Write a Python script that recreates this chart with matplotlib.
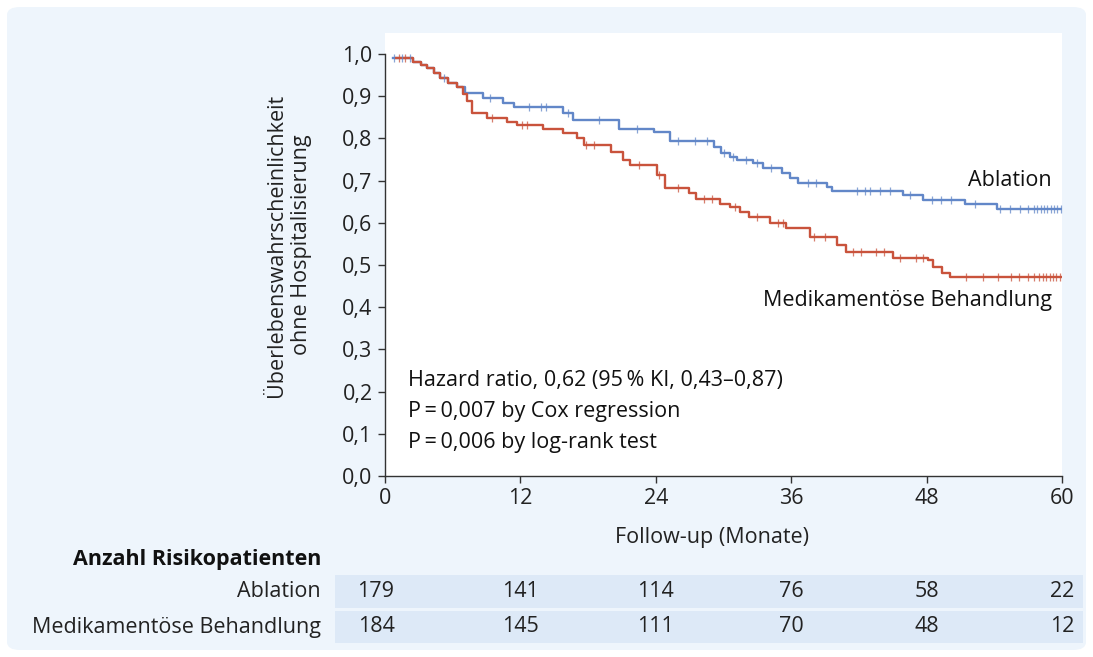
import numpy as np
import matplotlib.pyplot as plt
from matplotlib.patches import FancyBboxPatch, Rectangle
from matplotlib.transforms import blended_transform_factory, ScaledTranslation

plt.rcParams['font.family'] = ['Open Sans', 'DejaVu Sans']

# Kaplan-Meier-Stufen: Zeitpunkt (Monate) und Wert nach der Stufe
abl_t = [0.7, 2.5, 3.2, 3.7, 4.3, 4.9, 5.6, 6.4, 7.1, 8.7, 10.5, 11.4, 15.8, 16.7,
         20.7, 23.8, 25.3, 29.2, 29.8, 30.6, 31.2, 32.6, 33.5, 35.2, 35.9, 36.6,
         39.2, 39.6, 45.9, 47.7, 51.4, 54.2]
abl_s = [0.99, 0.982, 0.975, 0.967, 0.955, 0.943, 0.932, 0.922, 0.907, 0.896, 0.884,
         0.875, 0.86, 0.844, 0.822, 0.815, 0.795, 0.78, 0.765, 0.755, 0.749, 0.742,
         0.73, 0.718, 0.706, 0.695, 0.685, 0.675, 0.666, 0.654, 0.645, 0.632]
abl_cens = [0.8, 1.5, 2.2, 5.2, 9.3, 12.8, 13.8, 14.3, 16.2, 19.0, 22.3, 26.0, 27.5,
            28.5, 30.0, 30.8, 32.0, 33.0, 34.2, 37.5, 38.2, 41.8, 42.5, 43.0, 43.9,
            44.8, 46.5, 48.5, 49.3, 50.2, 52.3, 54.5, 55.4, 56.3, 57.0, 57.5, 57.8,
            58.1, 58.4, 58.7, 59.0, 59.3, 59.6, 59.9]

med_t = [1.0, 2.5, 3.2, 3.7, 4.3, 4.9, 5.6, 6.4, 6.9, 7.3, 7.7, 9.0, 10.8, 11.7,
         14.0, 15.8, 17.0, 17.6, 20.0, 21.1, 21.7, 24.1, 24.8, 26.9, 27.6, 29.7,
         30.6, 31.5, 32.3, 34.1, 35.5, 37.7, 40.1, 40.9, 45.0, 48.1, 48.6, 49.4, 50.1]
med_s = [0.99, 0.982, 0.975, 0.967, 0.955, 0.943, 0.932, 0.922, 0.905, 0.89, 0.86,
         0.848, 0.839, 0.832, 0.822, 0.812, 0.80, 0.785, 0.768, 0.749, 0.737, 0.713,
         0.682, 0.671, 0.656, 0.645, 0.638, 0.626, 0.614, 0.60, 0.588, 0.566, 0.548,
         0.531, 0.517, 0.512, 0.495, 0.481, 0.471]
med_cens = [1.2, 1.8, 9.5, 12.1, 12.6, 17.8, 18.5, 22.5, 24.3, 26.0, 28.3, 29.0,
            31.0, 33.0, 34.8, 35.3, 38.0, 39.0, 41.5, 42.2, 43.5, 44.2, 45.6, 47.1,
            47.7, 51.5, 53.0, 54.3, 55.5, 56.2, 57.0, 57.5, 58.0, 58.3, 58.6, 58.9,
            59.2, 59.5, 59.8]

months = [0, 12, 24, 36, 48, 60]
risk_abl = [179, 141, 114, 76, 58, 22]
risk_med = [184, 145, 111, 70, 48, 12]
yticks = [0.0, 0.1, 0.2, 0.3, 0.4, 0.5, 0.6, 0.7, 0.8, 0.9, 1.0]

blue = '#6287c8'
red = '#c9533c'
panel = '#eef5fc'
rowbg = '#dde9f7'
fs = 15.5

W, H = 1093, 657
fig = plt.figure(figsize=(W / 100, H / 100), dpi=100)
fig.patch.set_facecolor('white')

# hellblauer Hintergrund
fig.add_artist(FancyBboxPatch((7 / W, 7 / H), 1079 / W, 643 / H,
                              boxstyle='round,pad=0,rounding_size=0.012',
                              transform=fig.transFigure, fc=panel, ec='none', zorder=0))

ax = fig.add_axes([385 / W, (H - 476) / H, 677 / W, 443 / H])
ax.set_facecolor('white')
ax.set_xlim(0, 60)
ax.set_ylim(0, 1.05)
for s in ['top', 'right']:
    ax.spines[s].set_visible(False)
ax.spines['left'].set_bounds(0, 1)
ax.spines['bottom'].set_bounds(0, 60)
for s in ['left', 'bottom']:
    ax.spines[s].set_color('#333333')
    ax.spines[s].set_linewidth(1.0)

ax.set_xticks(months)
ax.set_yticks(yticks)
ax.set_yticklabels([f'{v:.1f}'.replace('.', ',') for v in yticks])
ax.tick_params(direction='out', length=5, width=1, color='#333333',
               labelsize=fs, labelcolor='#222222', pad=4)


def km(t, s, cens, color):
    tt = list(t) + [60]
    ss = list(s) + [s[-1]]
    ax.step(tt, ss, where='post', color=color, lw=1.7, zorder=3)
    idx = np.searchsorted(t, cens, side='right') - 1
    ax.plot(cens, np.array(s)[idx], ls='none', marker='|', ms=6, mew=0.9,
            color=color, alpha=0.75, zorder=4)


km(abl_t, abl_s, abl_cens, blue)
km(med_t, med_s, med_cens, red)

ax.text(59.1, 0.70, 'Ablation', ha='right', va='center', fontsize=fs, color='#111111')
ax.text(59.1, 0.416, 'Medikamentöse Behandlung', ha='right', va='center',
        fontsize=fs, color='#111111')

stats = ['Hazard ratio, 0,62 (95\u2009% KI, 0,43–0,87)',
         'P\u2009=\u20090,007 by Cox regression',
         'P\u2009=\u20090,006 by log-rank test']
for i, line in enumerate(stats):
    ax.text(2.0, 0.227 - i * 0.074, line, ha='left', va='center', fontsize=fs,
            color='#111111')

fig.text(289 / W, (H - 245) / H, 'Überlebenswahrscheinlichkeit\nohne Hospitalisierung',
         rotation=90, ha='center', va='center', fontsize=fs, color='#222222',
         linespacing=1.2)
fig.text(712 / W, (H - 538) / H, 'Follow-up (Monate)', ha='center', va='center',
         fontsize=fs, color='#222222')

# Tabelle der Risikopatienten
fig.text(321 / W, (H - 559) / H, 'Anzahl Risikopatienten', ha='right', va='center',
         fontsize=fs, fontweight='bold', color='#111111')
trans = blended_transform_factory(ax.transData, fig.transFigure)
shift = ScaledTranslation(-9 / 100, 0, fig.dpi_scale_trans)
rows = [('Ablation', risk_abl, 575, 608), ('Medikamentöse Behandlung', risk_med, 611, 643)]
for label, vals, top, bot in rows:
    fig.add_artist(Rectangle((335 / W, (H - bot) / H), 748 / W, (bot - top) / H,
                             transform=fig.transFigure, fc=rowbg, ec='none', zorder=1))
    yc = (H - (top + bot) / 2) / H
    fig.text(321 / W, yc, label, ha='right', va='center', fontsize=fs, color='#222222')
    for i, (m, v) in enumerate(zip(months, vals)):
        tr = trans + shift if i == 0 else trans
        fig.text(m, yc, str(v), transform=tr, ha='center', va='center',
                 fontsize=fs, color='#222222')

fig.savefig('out.png', dpi=100)
